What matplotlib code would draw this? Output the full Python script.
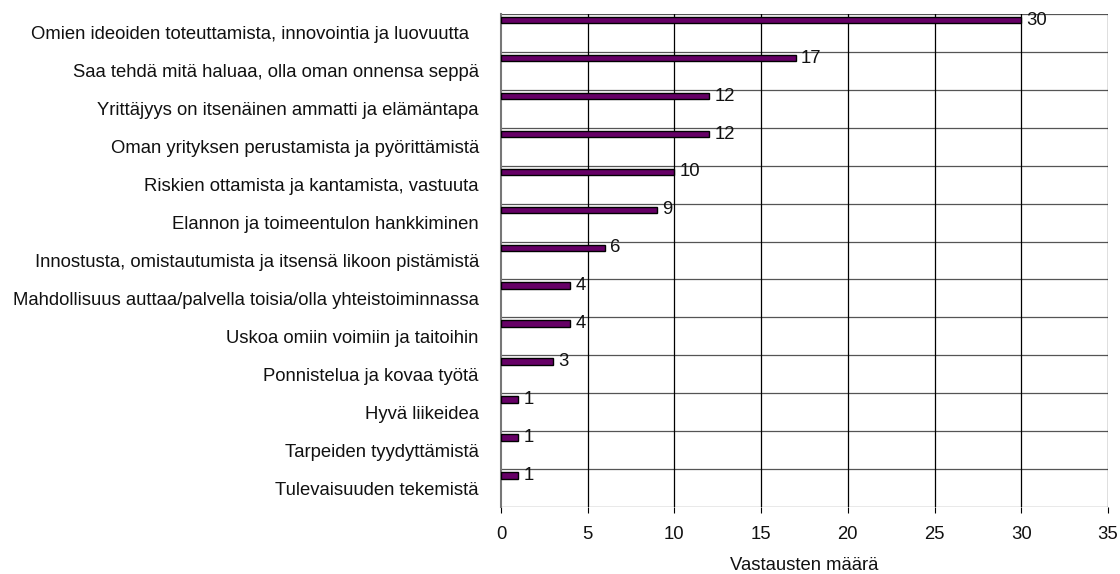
import matplotlib.pyplot as plt
import numpy as np

plt.rcParams['font.family'] = ['Liberation Sans', 'DejaVu Sans']

categories = [
    "Omien ideoiden toteuttamista, innovointia ja luovuutta  ",
    "Saa tehdä mitä haluaa, olla oman onnensa seppä",
    "Yrittäjyys on itsenäinen ammatti ja elämäntapa",
    "Oman yrityksen perustamista ja pyörittämistä",
    "Riskien ottamista ja kantamista, vastuuta",
    "Elannon ja toimeentulon hankkiminen",
    "Innostusta, omistautumista ja itsensä likoon pistämistä",
    "Mahdollisuus auttaa/palvella toisia/olla yhteistoiminnassa",
    "Uskoa omiin voimiin ja taitoihin",
    "Ponnistelua ja kovaa työtä",
    "Hyvä liikeidea",
    "Tarpeiden tyydyttämistä",
    "Tulevaisuuden tekemistä",
]
values = [30, 17, 12, 12, 10, 9, 6, 4, 4, 3, 1, 1, 1]

fs = 13.3
fig = plt.figure(figsize=(11.2, 5.74), dpi=100)
ax = fig.add_axes([501 / 1120, 1 - 507 / 574, 607 / 1120, 493 / 574])

n = len(categories)
idx = np.arange(n)
bar_c = idx + 0.165
ax.barh(bar_c, values, height=0.17, color='#660066', edgecolor='black', linewidth=1, zorder=3)
for y, v in zip(bar_c, values):
    ax.text(v + 0.3, y, str(v), va='center', ha='left', fontsize=fs, color='#111111', zorder=4)

ax.set_ylim(n, 0)
ax.set_xlim(0, 35)
ax.set_xticks(np.arange(0, 36, 5))
ax.set_yticks(idx + 0.5)
ax.set_yticklabels(categories, fontsize=fs, color='#111111')
ax.tick_params(axis='y', length=0, pad=16)
ax.tick_params(axis='x', length=4, direction='out', labelsize=fs, pad=10, labelcolor='#111111')
for y in range(n + 1):
    ax.axhline(y, color='#555555', linewidth=0.9, zorder=1)
for x in range(5, 36, 5):
    ax.axvline(x, color='black', linewidth=0.9, zorder=1)
for s in ['top', 'right', 'bottom']:
    ax.spines[s].set_visible(False)
ax.spines['left'].set_color('#777777')
ax.spines['left'].set_linewidth(1.5)
ax.set_xlabel("Vastausten määrä", fontsize=fs, labelpad=10, color='#111111')

fig.savefig('out.png', dpi=100)
